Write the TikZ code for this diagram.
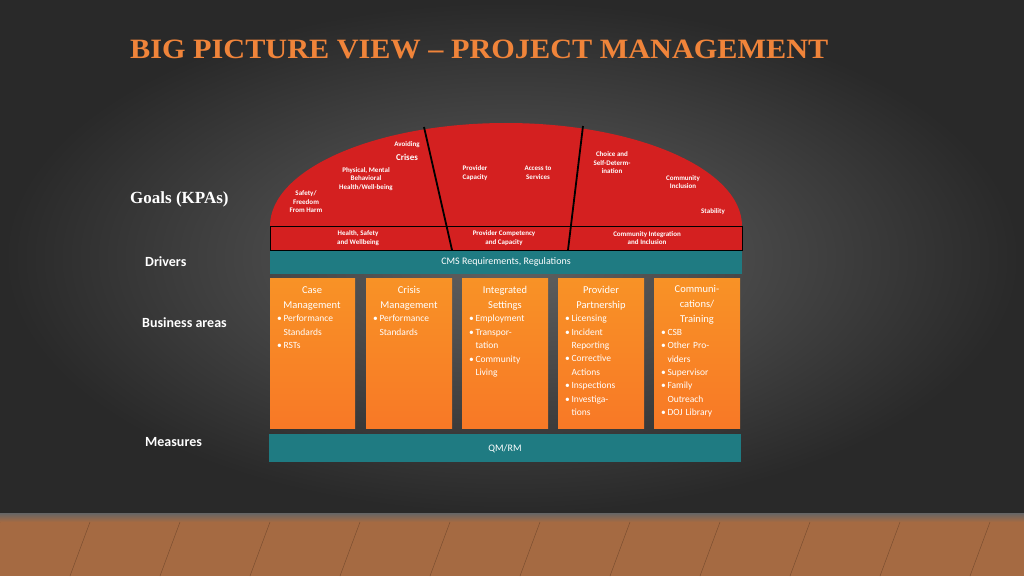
\documentclass[tikz,border=0pt]{standalone}
\usepackage{fontspec}
\setmainfont{Carlito}
\newfontfamily\titlefont{Liberation Serif}
\begin{document}
\begin{tikzpicture}[x=1pt,y=-1pt,
  lbl/.style={text=white,font=\bfseries\fontsize{7}{8.5}\selectfont,align=center,inner sep=0pt},
  side/.style={text=white,font=\bfseries\fontsize{14}{16}\selectfont,anchor=west,inner sep=0pt},
  otext/.style={text=white,font=\fontsize{9.5}{13.4}\selectfont,align=left,anchor=north west,inner sep=0pt,text width=80pt},
  head/.style={text=white,font=\fontsize{10.5}{15}\selectfont,align=center,inner sep=0pt}]
\definecolor{bg}{HTML}{3A3A3A}
\definecolor{wood}{HTML}{A56A42}
\definecolor{domered}{HTML}{D42020}
\definecolor{tealc}{HTML}{1F7B82}
\definecolor{orng}{HTML}{F7862A}
\definecolor{ttl}{HTML}{F0843A}
\useasboundingbox (0,0) rectangle (1024,576);
\shade[inner color=bg!80!white,outer color=bg!70!black] (0,0) rectangle (1024,515);
\fill[wood] (0,515) rectangle (1024,576);
\shade[top color=black!60,bottom color=wood] (0,513) rectangle (1024,522);
\foreach \x in {0,90,...,1024} \draw[wood!70!black,line width=0.4pt] (\x,522) -- (\x-20,576);
\node[text=ttl,font=\titlefont\bfseries\fontsize{28}{30}\selectfont,anchor=west,inner sep=0pt,xscale=1.08] (title) at (130,49) {BIG PICTURE VIEW – PROJECT MANAGEMENT};
% dome
\fill[domered] (270,226) arc[start angle=180,end angle=360,x radius=236,y radius=103] -- cycle;
\draw[black,line width=0.8pt,fill=domered] (270,226) rectangle (742,250);
\draw[black,line width=1.8pt] (424,127) -- (452,250);
\draw[black,line width=1.8pt] (583,126) -- (568,250);
\node[lbl] (a1) at (407,145) {Avoiding};
\node[lbl,font=\bfseries\fontsize{9}{10}\selectfont] (a2) at (407,157) {Crises};
\node[lbl] (a3) at (366,179) {Physical, Mental\\Behavioral\\Health/Well-being};
\node[lbl] (a4) at (306,202) {Safety/\\Freedom\\From Harm};
\node[lbl] (a5) at (475,173) {Provider\\Capacity};
\node[lbl] (a6) at (538,173) {Access to\\Services};
\node[lbl] (a7) at (612,163) {Choice and\\Self-Determ-\\ination};
\node[lbl] (a8) at (683,182) {Community\\Inclusion};
\node[lbl] (a9) at (713,212) {Stability};
\node[lbl] (b1) at (358,238) {Health, Safety\\and Wellbeing};
\node[lbl] (b2) at (504,238) {Provider Competency\\and Capacity};
\node[lbl] (b3) at (647,238) {Community Integration\\and Inclusion};
% teal bars
\fill[tealc] (270,251) rectangle (742,274);
\node[text=white,font=\fontsize{10}{12}\selectfont] (cms) at (506,262) {CMS Requirements, Regulations};
\fill[tealc] (269,434) rectangle (741,462);
\node[text=white,font=\fontsize{10}{12}\selectfont] (qm) at (505,449) {QM/RM};
% orange boxes
\foreach \xa/\xb in {270/355,366/452,462/548,558/644,654/740}
  \shade[top color=orng!90!yellow,bottom color=orng!90!red] (\xa,278) rectangle (\xb,428);
\def\bl{\textbullet\,}
\node[head] (c1) at (312,298) {Case\\Management};
\node[head] (c2) at (409,298) {Crisis\\Management};
\node[head] (c3) at (505,298) {Integrated\\Settings};
\node[head] (c4) at (601,298) {Provider\\Partnership};
\node[head] (c5) at (697,305) {Communi-\\cations/\\Training};
\node[otext] (t1) at (277,315) {\bl Performance\\\phantom{\bl}Standards\\\bl RSTs};
\node[otext] (t2) at (373,315) {\bl Performance\\\phantom{\bl}Standards};
\node[otext] (t3) at (469,315) {\bl Employment\\\bl Transpor-\\\phantom{\bl}tation\\\bl Community\\\phantom{\bl}Living};
\node[otext] (t4) at (565,315) {\bl Licensing\\\bl Incident\\\phantom{\bl}Reporting\\\bl Corrective\\\phantom{\bl}Actions\\\bl Inspections\\\bl Investiga-\\\phantom{\bl}tions};
\node[otext] (t5) at (661,329) {\bl CSB\\\bl Other Pro-\\\phantom{\bl}viders\\\bl Supervisor\\\bl Family\\\phantom{\bl}Outreach\\\bl DOJ Library};
% side labels
\node[side,font=\titlefont\bfseries\fontsize{17}{18}\selectfont] (g) at (130,199) {Goals (KPAs)};
\node[side] (d) at (145,262) {Drivers};
\node[side] (ba) at (142,323) {Business areas};
\node[side] (m) at (145,442) {Measures};
\end{tikzpicture}
\end{document}
